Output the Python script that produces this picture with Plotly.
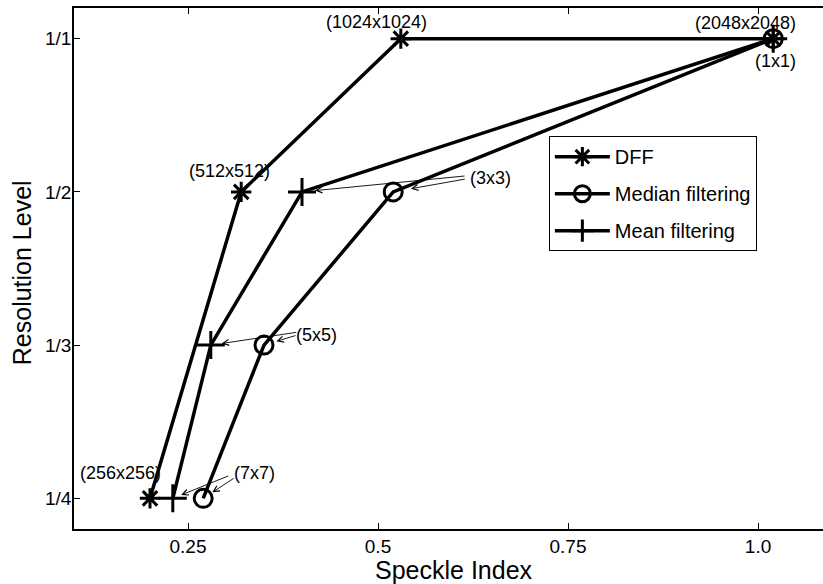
import plotly.graph_objects as go

# ---- data ----
levels = ["1/4", "1/3", "1/2", "1/1"]          # resolution level categories (bottom -> top)
x_ticks = [0.25, 0.5, 0.75, 1.0]
x_tick_labels = ["0.25", "0.5", "0.75", "1.0"]

dff_x = [0.20, 0.32, 0.53, 1.02]
dff_level = ["1/4", "1/2", "1/1", "1/1"]
dff_labels = ["(256x256)", "(512x512)", "(1024x1024)", "(2048x2048)"]

median_x = [0.27, 0.35, 0.52, 1.02]
median_level = ["1/4", "1/3", "1/2", "1/1"]

mean_x = [0.23, 0.28, 0.40, 1.02]
mean_level = ["1/4", "1/3", "1/2", "1/1"]

window_labels = ["(7x7)", "(5x5)", "(3x3)", "(1x1)"]


def ypos(lv_list):
    return [levels.index(v) + 1 for v in lv_list]


dff_y = ypos(dff_level)
median_y = ypos(median_level)
mean_y = ypos(mean_level)

FONT = "Liberation Sans, Arial, sans-serif"
BLACK = "black"

fig = go.Figure()
fig.add_trace(go.Scatter(
    x=dff_x, y=dff_y, mode="lines+markers", name="DFF", legendgroup="a",
    line=dict(color=BLACK, width=3.5),
    marker=dict(symbol="asterisk-open", size=17, color=BLACK, line=dict(color=BLACK, width=3)),
))
fig.add_trace(go.Scatter(
    x=median_x, y=median_y, mode="lines+markers", name="Median filtering", legendgroup="b",
    line=dict(color=BLACK, width=3.5),
    marker=dict(symbol="circle-open", size=18, color=BLACK, line=dict(color=BLACK, width=3)),
))
fig.add_trace(go.Scatter(
    x=mean_x, y=mean_y, mode="lines+markers", name="Mean filtering", legendgroup="c",
    line=dict(color=BLACK, width=3.5),
    marker=dict(symbol="cross-thin-open", size=20, color=BLACK, line=dict(color=BLACK, width=3)),
))

ann_font = dict(family=FONT, size=18, color=BLACK)
annotations = []

# size labels for DFF points (style offsets only)
dff_shift = [(-30, 25), (-12, 21), (-24, 17), (-28, 16)]
for i, lab in enumerate(dff_labels):
    annotations.append(dict(x=dff_x[i], y=dff_y[i], xref="x", yref="y", text=lab,
                            showarrow=False, xshift=dff_shift[i][0], yshift=dff_shift[i][1],
                            font=ann_font))

# window-size labels anchored to median points
win_shift = [(51, 25), (52, 10), (97, 14), (2, -22)]
for i, lab in enumerate(window_labels):
    annotations.append(dict(x=median_x[i], y=median_y[i], xref="x", yref="y", text=lab,
                            showarrow=False, xshift=win_shift[i][0], yshift=win_shift[i][1],
                            font=ann_font))

# arrows from window labels to the mean and median points
mean_arrows = [(57, -23, 9), (87, -13, 11), (164, -16, 13)]
median_arrows = [(32, -21, 11), (33, -10, 13), (73, -13, 18)]
for i in range(3):
    ax, ay, so = mean_arrows[i]
    annotations.append(dict(x=mean_x[i], y=mean_y[i], xref="x", yref="y", text="",
                            showarrow=True, ax=ax, ay=ay, standoff=so,
                            arrowhead=5, arrowsize=1.3, arrowwidth=0.9, arrowcolor=BLACK))
    ax, ay, so = median_arrows[i]
    annotations.append(dict(x=median_x[i], y=median_y[i], xref="x", yref="y", text="",
                            showarrow=True, ax=ax, ay=ay, standoff=so,
                            arrowhead=5, arrowsize=1.3, arrowwidth=0.9, arrowcolor=BLACK))

# axis titles
annotations.append(dict(x=0.507, y=-0.079, xref="paper", yref="paper", text="Speckle Index",
                        showarrow=False, xanchor="center", yanchor="middle",
                        font=dict(family=FONT, size=25, color=BLACK)))
annotations.append(dict(x=-0.0694, y=0.491, xref="paper", yref="paper", text="Resolution Level",
                        showarrow=False, xanchor="center", yanchor="middle", textangle=-90,
                        font=dict(family=FONT, size=25, color=BLACK)))

fig.update_layout(
    width=823, height=584,
    margin=dict(l=74, r=0, t=8, b=55),
    paper_bgcolor="white", plot_bgcolor="white",
    font=dict(family=FONT, color=BLACK),
    annotations=annotations,
    legend=dict(x=0.634, y=0.754, xanchor="left", yanchor="top",
                bordercolor=BLACK, borderwidth=1, bgcolor="white",
                font=dict(family=FONT, size=20, color=BLACK),
                tracegroupgap=8, itemwidth=55),
    showlegend=True,
)
fig.update_xaxes(range=[0.1, 1.0855], tickvals=x_ticks, ticktext=x_tick_labels,
                 showline=True, linecolor=BLACK, linewidth=1.5, mirror="ticks",
                 ticks="inside", ticklen=6, tickcolor=BLACK, tickwidth=1,
                 showgrid=False, zeroline=False, ticklabelstandoff=-1,
                 tickfont=dict(family=FONT, size=19, color=BLACK))
fig.update_yaxes(range=[0.8, 4.2], tickvals=[1, 2, 3, 4], ticktext=levels,
                 showline=True, linecolor=BLACK, linewidth=1.5, mirror=False,
                 ticks="inside", ticklen=6, tickcolor=BLACK, tickwidth=1,
                 showgrid=False, zeroline=False, ticklabelstandoff=-3,
                 tickfont=dict(family=FONT, size=19, color=BLACK))

fig.write_html("out.html", config={"displayModeBar": False},
               post_script="document.body.style.margin='0';document.body.style.overflow='hidden';")
